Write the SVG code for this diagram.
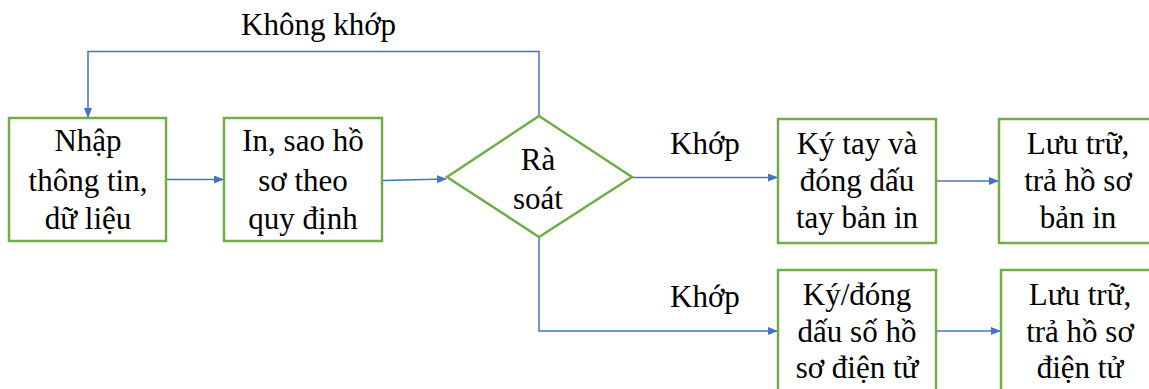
<svg xmlns="http://www.w3.org/2000/svg" width="1149" height="389" viewBox="0 0 1149 389">
<style>
.box{fill:#fff;stroke:#70AD47;stroke-width:2.5}
.ln{fill:none;stroke:#4472C4;stroke-width:1.5}
.c{text-anchor:middle}
</style>
<defs>
<marker id="ah" markerWidth="10" markerHeight="8" refX="9" refY="4" orient="auto" markerUnits="userSpaceOnUse">
<path d="M0,0 L10,4 L0,8 Z" fill="#4472C4"/>
</marker>
</defs>
<rect width="1149" height="389" fill="#fff"/>
<g font-family="Liberation Serif, Tinos, Times New Roman, DejaVu Serif, serif" font-size="31" fill="#000">
<g id="connectors">
<polyline class="ln" points="539,116 539,51.5 88,51.5 88,117" marker-end="url(#ah)"/>
<line class="ln" x1="167" y1="179.5" x2="223" y2="179.5" marker-end="url(#ah)"/>
<line class="ln" x1="383" y1="180.5" x2="446" y2="179" marker-end="url(#ah)"/>
<line class="ln" x1="632" y1="177.5" x2="777" y2="177.5" marker-end="url(#ah)"/>
<line class="ln" x1="937" y1="181" x2="998" y2="181" marker-end="url(#ah)"/>
<polyline class="ln" points="539,238 539,331 777,331" marker-end="url(#ah)"/>
<line class="ln" x1="937" y1="331" x2="1000" y2="331" marker-end="url(#ah)"/>
<text x="241" y="35">Không khớp</text>
<text x="670" y="154">Khớp</text>
<text x="670" y="307">Khớp</text>
</g>
<g id="n1">
<rect class="box" x="9" y="118" width="157" height="123"/>
<text class="c" x="88" y="151">Nhập</text>
<text class="c" x="88" y="191">thông tin,</text>
<text class="c" x="88" y="229">dữ liệu</text>
</g>
<g id="n2">
<rect class="box" x="224" y="118" width="158" height="123"/>
<text class="c" x="303" y="151">In, sao hồ</text>
<text class="c" x="303" y="191">sơ theo</text>
<text class="c" x="303" y="229">quy định</text>
</g>
<g id="n3">
<polygon class="box" points="539,116 632,177 539,237 447,177"/>
<text class="c" x="538" y="170">Rà</text>
<text class="c" x="538" y="209">soát</text>
</g>
<g id="n4">
<rect class="box" x="778" y="119" width="158" height="124"/>
<text class="c" x="857" y="154">Ký tay và</text>
<text class="c" x="857" y="191">đóng dấu</text>
<text class="c" x="857" y="228">tay bản in</text>
</g>
<g id="n5">
<rect class="box" x="999" y="119" width="160" height="124"/>
<text class="c" x="1078" y="154">Lưu trữ,</text>
<text class="c" x="1078" y="191">trả hồ sơ</text>
<text class="c" x="1078" y="228">bản in</text>
</g>
<g id="n6">
<rect class="box" x="778" y="270" width="158" height="126"/>
<text class="c" x="857" y="305">Ký/đóng</text>
<text class="c" x="857" y="342">dấu số hồ</text>
<text class="c" x="857" y="378">sơ điện tử</text>
</g>
<g id="n7">
<rect class="box" x="1001" y="270" width="160" height="126"/>
<text class="c" x="1080" y="305">Lưu trữ,</text>
<text class="c" x="1080" y="342">trả hồ sơ</text>
<text class="c" x="1080" y="378">điện tử</text>
</g>
</g>
</svg>
